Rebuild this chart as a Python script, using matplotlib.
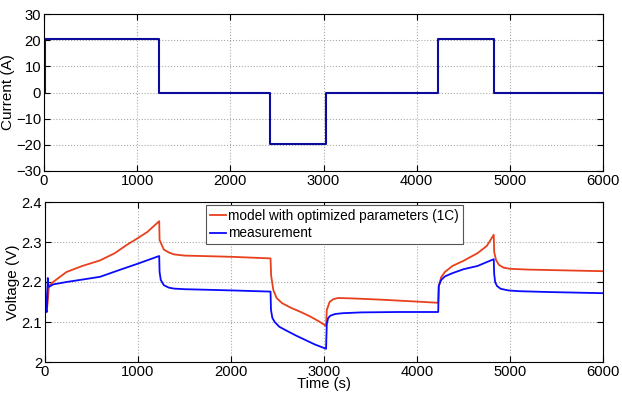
import matplotlib.pyplot as plt

plt.rcParams['font.family'] = ['Liberation Sans', 'DejaVu Sans']

# Current profile (step points)
t_cur = [0, 15, 15, 1230, 1230, 2425, 2425, 3025, 3025, 4230, 4230, 4825, 4825, 6000]
i_cur = [0, 0, 20.3, 20.3, 0, 0, -19.6, -19.6, 0, 0, 20.3, 20.3, 0, 0]

# Voltage - model with optimized parameters
t_mod = [0, 10, 25, 43, 87, 231, 400, 592, 750, 881, 1000, 1100, 1228,
         1232, 1260, 1278, 1330, 1387, 1500, 1676, 2000, 2425,
         2432, 2455, 2490, 2550, 2650, 2750, 2850, 2950, 3022,
         3030, 3060, 3100, 3150, 3300, 3600, 4000, 4228,
         4234, 4260, 4300, 4380, 4500, 4650, 4750, 4825,
         4830, 4850, 4880, 4930, 5000, 5200, 5600, 6000]
v_mod = [2.13, 2.125, 2.14, 2.19, 2.2, 2.225, 2.24, 2.254, 2.272, 2.293, 2.31, 2.325, 2.352,
         2.305, 2.29, 2.281, 2.274, 2.269, 2.266, 2.265, 2.263, 2.259,
         2.215, 2.18, 2.16, 2.147, 2.135, 2.125, 2.114, 2.101, 2.09,
         2.13, 2.15, 2.157, 2.16, 2.159, 2.156, 2.151, 2.148,
         2.19, 2.212, 2.225, 2.24, 2.253, 2.272, 2.29, 2.318,
         2.275, 2.255, 2.243, 2.236, 2.233, 2.231, 2.229, 2.227]

# Voltage - measurement
t_meas = [0, 8, 20, 30, 36, 45, 87, 231, 400, 592, 800, 1000, 1228,
          1232, 1245, 1278, 1330, 1387, 1500, 1676, 2000, 2425,
          2430, 2445, 2470, 2520, 2600, 2700, 2800, 2900, 3022,
          3030, 3045, 3070, 3120, 3200, 3400, 3800, 4228,
          4234, 4260, 4300, 4380, 4500, 4650, 4825,
          4830, 4840, 4860, 4900, 4980, 5100, 5400, 6000]
v_meas = [2.21, 2.13, 2.125, 2.21, 2.19, 2.188, 2.194, 2.2, 2.206, 2.213, 2.23, 2.246, 2.265,
          2.225, 2.205, 2.192, 2.186, 2.1835, 2.182, 2.181, 2.179, 2.176,
          2.13, 2.11, 2.1, 2.088, 2.078, 2.066, 2.055, 2.044, 2.033,
          2.095, 2.11, 2.116, 2.12, 2.122, 2.124, 2.125, 2.125,
          2.19, 2.205, 2.214, 2.222, 2.232, 2.24, 2.257,
          2.22, 2.2, 2.19, 2.183, 2.179, 2.177, 2.175, 2.172]

fig = plt.figure(figsize=(6.22, 3.94), dpi=100)
ax1 = fig.add_axes([44/622, 1-171/394, 559/622, 157/394])
ax2 = fig.add_axes([45/622, 1-362/394, 558/622, 160/394])

ax1.plot(t_cur, i_cur, color='#0c0c9c', linewidth=1.5)
ax1.set_xlim(0, 6000)
ax1.set_ylim(-30, 30)
ax1.set_yticks([-30, -20, -10, 0, 10, 20, 30])
ax1.set_xticks([0, 1000, 2000, 3000, 4000, 5000, 6000])
ax1.set_ylabel("Current (A)", fontsize=11, labelpad=1)

ax2.plot(t_mod, v_mod, color='#e8401c', linewidth=1.3, label='model with optimized parameters (1C)')
ax2.plot(t_meas, v_meas, color='#0a0aff', linewidth=1.3, label='measurement')
ax2.set_xlim(0, 6000)
ax2.set_ylim(2.0, 2.4)
ax2.set_yticks([2.0, 2.1, 2.2, 2.3, 2.4])
ax2.set_yticklabels(['2', '2.1', '2.2', '2.3', '2.4'])
ax2.set_xticks([0, 1000, 2000, 3000, 4000, 5000, 6000])
ax2.set_ylabel("Voltage (V)", fontsize=11, labelpad=1)
ax2.set_xlabel("Time (s)", fontsize=10.6, labelpad=-1)

leg = ax2.legend(loc='upper left', bbox_to_anchor=(0.2885, 0.982), fontsize=9.8,
                 handlelength=1.2, handletextpad=0.1, borderpad=0.3, borderaxespad=0,
                 labelspacing=0.25, fancybox=False, framealpha=1, edgecolor='#555555')
leg.get_frame().set_linewidth(0.8)

for ax in (ax1, ax2):
    ax.grid(True, linestyle=':', color='#aaaaaa', linewidth=0.8)
    ax.tick_params(direction='in', top=True, right=True, length=4, labelsize=10.6, pad=2)
    for s in ax.spines.values():
        s.set_linewidth(0.8)

fig.savefig("out.png", dpi=100)
